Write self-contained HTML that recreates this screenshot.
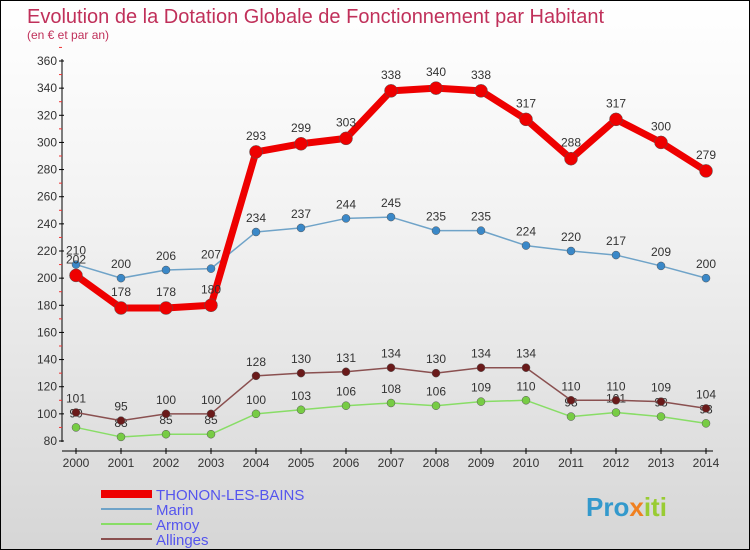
<!DOCTYPE html>
<html><head><meta charset="utf-8"><style>
body{margin:0}
#c{position:relative;width:748px;height:548px;border:1px solid #000;background:linear-gradient(#fff,#f2f2f2 40%,#d6d6d6);font-family:"Liberation Sans",sans-serif;overflow:hidden}
</style></head><body>
<div id="c">
<svg width="748" height="548" id="s" style="position:absolute;left:0;top:0">
<text x="26" y="22" font-size="20" fill="#c0305a">Evolution de la Dotation Globale de Fonctionnement par Habitant</text>
<text x="26" y="38" font-size="12" fill="#c0305a">(en € et par an)</text>
<g id="axes"></g><g id="series"></g>
<g>
<rect x="100" y="489" width="51" height="8" fill="#e00"/>
<text x="155" y="499" font-size="15" fill="#5555ee">THONON-LES-BAINS</text>
<line x1="100" x2="151" y1="508" y2="508" stroke="#6fa3c8" stroke-width="2"/>
<text x="155" y="514" font-size="15" fill="#5555ee">Marin</text>
<line x1="100" x2="151" y1="523" y2="523" stroke="#88dd66" stroke-width="2"/>
<text x="155" y="529" font-size="15" fill="#5555ee">Armoy</text>
<line x1="100" x2="151" y1="538" y2="538" stroke="#8a5050" stroke-width="2"/>
<text x="155" y="544" font-size="15" fill="#5555ee">Allinges</text>
</g>
<text x="585" y="515" font-size="26" font-weight="bold" fill="#3399cc">Pro<tspan fill="#f08020">x</tspan><tspan fill="#99cc33">iti</tspan></text>
</svg>
</div>
<script>
const years=[2000,2001,2002,2003,2004,2005,2006,2007,2008,2009,2010,2011,2012,2013,2014];
const thonon=[202,178,178,180,293,299,303,338,340,338,317,288,317,300,279];
const marin=[210,200,206,207,234,237,244,245,235,235,224,220,217,209,200];
const armoy=[90,83,85,85,100,103,106,108,106,109,110,98,101,98,93];
const allinges=[101,95,100,100,128,130,131,134,130,134,134,110,110,109,104];
const yTicks=[80,100,120,140,160,180,200,220,240,260,280,300,320,340,360];
const NS="http://www.w3.org/2000/svg";
const X=i=>75+i*45, Y=v=>440-(v-80)*380/280;
function mk(t,a,p){const e=document.createElementNS(NS,t);for(const k in a)e.setAttribute(k,a[k]);p.appendChild(e);return e;}
const ax=document.getElementById('axes');
let l=mk('line',{x1:61,x2:61,y1:58,y2:441,stroke:'#000'},ax);


l=mk('line',{x1:61,x2:712,y1:450,y2:450,stroke:'#000'},ax);


yTicks.forEach(v=>{mk('line',{x1:58,x2:63,y1:Y(v),y2:Y(v),stroke:'#000'},ax);
 mk('line',{x1:58,x2:61,y1:Y(v+10),y2:Y(v+10),stroke:'#e33'},ax);
 const t=mk('text',{x:56,y:Y(v)+4,'font-size':12,fill:'#333','text-anchor':'end'},ax);t.textContent=v;
 
 });
years.forEach((y,i)=>{mk('line',{x1:X(i),x2:X(i),y1:447,y2:453,stroke:'#000'},ax);
 const t=mk('text',{x:X(i),y:466,'font-size':12,fill:'#333','text-anchor':'middle'},ax);t.textContent=y;
 
 });
const sg=document.getElementById('series');
function draw(d,col,w,r,dot,name,labOff){
 const g=mk('g',{},sg);
 
 
 const pl=mk('polyline',{points:d.map((v,i)=>X(i)+','+Y(v)).join(' '),fill:'none',stroke:col,'stroke-width':w,'stroke-linejoin':'round'},g);
 
 
 d.forEach((v,i)=>{const c=mk('circle',{cx:X(i),cy:Y(v),r:r,fill:dot,stroke:'#555','stroke-width':0.5},g);
  
  
  const t=mk('text',{x:X(i),y:Y(v)+labOff,'font-size':12,fill:'#333','text-anchor':'middle'},g);t.textContent=v;
  
  });
}
draw(armoy,'#88dd66',1.5,4,'#77cc44','armoy',-10);
draw(allinges,'#8a5050',1.5,4,'#6a1a1a','allinges',-10);
draw(marin,'#6fa3c8',1.5,4,'#3a88c8','marin',-10);
draw(thonon,'#ee0000',7,6.5,'#ee0000','thonon',-12);
</script>
</body></html>
